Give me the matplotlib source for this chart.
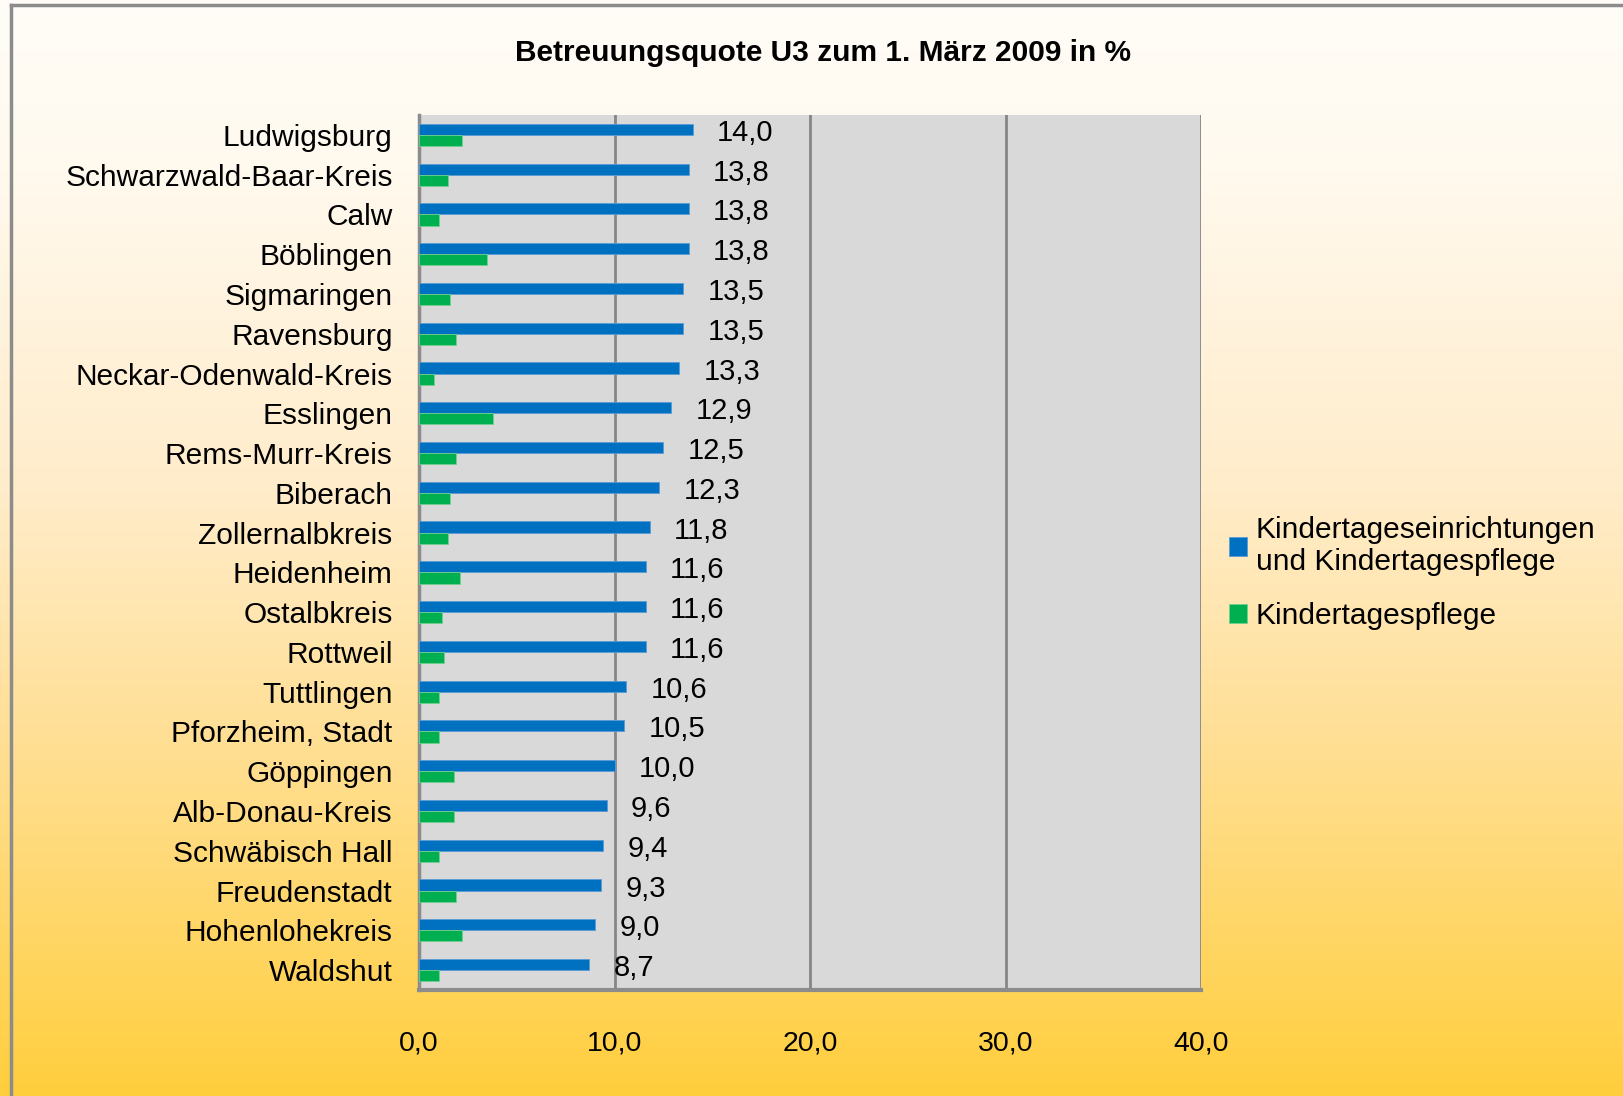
import numpy as np
import matplotlib
matplotlib.use("Agg")
import matplotlib.pyplot as plt
from matplotlib.colors import LinearSegmentedColormap
from matplotlib.lines import Line2D

plt.rcParams['font.family'] = ['Liberation Sans', 'DejaVu Sans']

kreise = ['Ludwigsburg', 'Schwarzwald-Baar-Kreis', 'Calw', 'Böblingen', 'Sigmaringen',
          'Ravensburg', 'Neckar-Odenwald-Kreis', 'Esslingen', 'Rems-Murr-Kreis', 'Biberach',
          'Zollernalbkreis', 'Heidenheim', 'Ostalbkreis', 'Rottweil', 'Tuttlingen',
          'Pforzheim, Stadt', 'Göppingen', 'Alb-Donau-Kreis', 'Schwäbisch Hall',
          'Freudenstadt', 'Hohenlohekreis', 'Waldshut']
gesamt = [14.0, 13.8, 13.8, 13.8, 13.5, 13.5, 13.3, 12.9, 12.5, 12.3, 11.8,
          11.6, 11.6, 11.6, 10.6, 10.5, 10.0, 9.6, 9.4, 9.3, 9.0, 8.7]
pflege = [2.2, 1.5, 1.0, 3.5, 1.6, 1.9, 0.75, 3.8, 1.9, 1.6, 1.5,
          2.1, 1.2, 1.3, 1.0, 1.0, 1.8, 1.8, 1.0, 1.9, 2.2, 1.0]
xticks = [0, 10, 20, 30, 40]
xticklabels = ['0,0', '10,0', '20,0', '30,0', '40,0']

W, H = 1623, 1096
fig = plt.figure(figsize=(W / 100, H / 100), dpi=100)

# background gradient
bg = fig.add_axes([0, 0, 1, 1], zorder=-10)
cmap = LinearSegmentedColormap.from_list('bg', [
    (0.0, (1.0, 0.992, 0.972)),
    (0.15, (1.0, 0.978, 0.935)),
    (0.45, (1.0, 0.925, 0.790)),
    (0.70, (1.0, 0.870, 0.560)),
    (1.0, (1.0, 0.810, 0.240))])
grad = np.linspace(0, 1, 256).reshape(-1, 1)
bg.imshow(grad, aspect='auto', cmap=cmap, extent=[0, 1, 0, 1], origin='upper')
bg.set_xlim(0, 1)
bg.set_ylim(0, 1)
bg.axis('off')

# frame lines (left and top)
fig.add_artist(Line2D([11 / W, 11 / W], [0, 1 - 5 / H], color='#8c8c8c', lw=2.5,
                      transform=fig.transFigure))
fig.add_artist(Line2D([11 / W, 1], [1 - 5 / H, 1 - 5 / H], color='#8c8c8c', lw=2.5,
                      transform=fig.transFigure))

ax = fig.add_axes([419 / W, 106 / H, 782 / W, 875 / H])
ax.set_facecolor('#d9d9d9')

y = np.arange(len(kreise))
h = 0.28
ax.barh(y - h / 2, gesamt, height=h, color='#0070c0', edgecolor='#5b9bd5', linewidth=0.6,
        label='Kindertageseinrichtungen\nund Kindertagespflege', zorder=3)
ax.barh(y + h / 2, pflege, height=h, color='#00b050', edgecolor='#6fcf8f', linewidth=0.6,
        label='Kindertagespflege', zorder=3)

for yi, v in zip(y, gesamt):
    ax.text(v + 1.25, yi - 0.05, f'{v:.1f}'.replace('.', ','), va='center', ha='left',
            fontsize=21, color='black', zorder=4)

ax.set_xlim(0, 40)
ax.set_ylim(len(kreise) - 0.5, -0.5)
ax.set_xticks(xticks)
ax.set_xticklabels(xticklabels, fontsize=20.5)
ax.set_yticks(y)
ax.set_yticklabels(kreise, fontsize=21.5)
ax.tick_params(axis='x', length=0, pad=29)
ax.tick_params(axis='y', length=0, pad=19)
ax.grid(axis='x', color='#868686', linewidth=2, zorder=1)
ax.set_axisbelow(True)
for s in ['top', 'right']:
    ax.spines[s].set_visible(False)
ax.spines['left'].set_color('#8c8c8c')
ax.spines['left'].set_linewidth(2.5)
ax.spines['bottom'].set_color('#8c8c8c')
ax.spines['bottom'].set_linewidth(3)

fig.text(823 / W, 1 - 53 / H, 'Betreuungsquote U3 zum 1. März 2009 in %', ha='center',
         va='center', fontsize=21.5, fontweight='bold')

leg = fig.legend(loc='upper left', bbox_to_anchor=(1217 / W, 1 - 504 / H), frameon=False,
                 fontsize=21.5, handlelength=0.6, handleheight=0.6, handletextpad=0.3,
                 labelspacing=0.85, borderaxespad=0)

fig.savefig('out.png', dpi=100)
